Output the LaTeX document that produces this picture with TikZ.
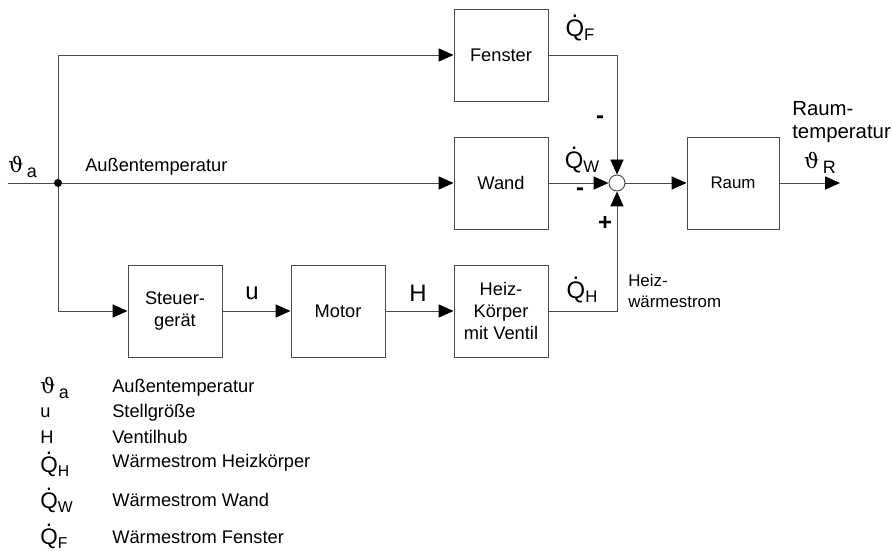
\documentclass[tikz,border=0pt]{standalone}
\usepackage{fontspec}
\usepackage{graphicx}
\setmainfont{Liberation Sans}
\newfontfamily\greekfont{DejaVu Serif}
\usetikzlibrary{arrows.meta, positioning, calc}

\newcommand{\qdot}[1]{\ooalign{\hfil\raisebox{0.8em}{.}\hfil\cr Q\cr}\raisebox{-0.35ex}{\scalebox{0.7}{#1}}}
\newcommand{\thsub}[1]{{\greekfont ϑ}\,\raisebox{-0.45ex}{\scalebox{0.85}{#1}}}

\begin{document}
\begin{tikzpicture}[
  block/.style={draw=black!70, line width=0.7pt, minimum width=2.35cm, minimum height=2.3cm, align=center, font=\fontsize{13pt}{15.5pt}\selectfont},
  sumnode/.style={circle, draw=black!70, line width=0.7pt, minimum size=0.4cm, inner sep=0pt},
  junction/.style={circle, fill=black, minimum size=0.2cm, inner sep=0pt},
  line/.style={draw=black!70, line width=0.7pt},
  arrow/.style={line, -{Triangle[length=0.375cm, width=0.33cm, color=black]}},
  sig/.style={font=\fontsize{17pt}{19pt}\selectfont, inner sep=0pt},
  txt/.style={font=\fontsize{13pt}{15.5pt}\selectfont, inner sep=0pt, anchor=west, align=left}
]
\useasboundingbox (0,0) rectangle (22.3,-13.775);

% Blocks
\node[block] (fenster) at (12.525, -1.375) {Fenster};
\node[block] (wand) at (12.525, -4.575) {Wand};
\node[sumnode] (sum) at (15.425, -4.575) {};
\node[block, minimum width=2.3cm, font=\fontsize{12pt}{14pt}\selectfont] (raum) at (18.325, -4.575) {Raum};
\node[block] (steuer) at (4.375, -7.775) {Steuer-\\gerät};
\node[block] (motor) at (8.45, -7.775) {Motor};
\node[block] (heiz) at (12.525, -7.775) {Heiz-\\Körper\\mit Ventil};

% Input and output
\coordinate (in) at (0.2, -4.575);
\node[junction] (dot) at (1.45, -4.575) {};
\coordinate (out) at (21.0, -4.575);

% Connections
\draw[line] (in) -- (dot);
\draw[arrow] (dot) -- (wand);
\draw[arrow] (dot) |- (fenster);
\draw[arrow] (dot) |- (steuer);
\draw[arrow] (steuer) -- (motor);
\draw[arrow] (motor) -- (heiz);
\draw[arrow] (fenster) -| (sum);
\draw[arrow] (wand) -- (sum);
\draw[arrow] (heiz) -| (sum);
\draw[arrow] (sum) -- (raum);
\draw[arrow] (raum) -- (out);

% Signal labels
\node[txt, font=\fontsize{15pt}{17pt}\selectfont] (tha) at (0.2, -4.175) {\thsub{a}};
\node[txt] (aussen) at (2.125, -4.175) {Außentemperatur};
\node[sig] (qf) at (14.5, -0.7) {\qdot{F}};
\node[sig] (qw) at (14.55, -4.0) {\qdot{W}};
\node[sig] (qh) at (14.55, -7.25) {\qdot{H}};
\node[sig] (su) at (6.3, -7.325) {u};
\node[sig] (sh) at (10.45, -7.325) {H};
\node[sig, font=\bfseries\fontsize{17pt}{19pt}\selectfont] (m1) at (15.0, -3.0) {-};
\node[sig, font=\bfseries\fontsize{17pt}{19pt}\selectfont] (m2) at (14.5, -4.8) {-};
\node[sig, font=\bfseries\fontsize{17pt}{19pt}\selectfont] (p1) at (15.125, -5.575) {+};
\node[txt, font=\fontsize{12pt}{14.5pt}\selectfont] (heizw) at (15.7, -7.275) {Heiz-\\wärmestrom};
\node[txt, font=\fontsize{14.5pt}{16.5pt}\selectfont] (raumt) at (19.8, -3.05) {Raum-\\temperatur};
\node[sig, font=\fontsize{15pt}{17pt}\selectfont] (thr) at (20.5, -4.075) {\thsub{R}};

% Legend
\node[txt, font=\fontsize{15pt}{17pt}\selectfont] (lg1) at (1.0, -9.7) {\thsub{a}};
\node[txt] (lt1) at (2.8, -9.7) {Außentemperatur};
\node[txt] (lg2) at (1.0, -10.325) {u};
\node[txt] (lt2) at (2.8, -10.325) {Stellgröße};
\node[txt] (lg3) at (1.0, -10.925) {H};
\node[txt] (lt3) at (2.8, -10.925) {Ventilhub};
\node[txt, font=\fontsize{16pt}{18pt}\selectfont] (lg4) at (1.0, -11.6) {\qdot{H}};
\node[txt] (lt4) at (2.8, -11.575) {Wärmestrom Heizkörper};
\node[txt, font=\fontsize{16pt}{18pt}\selectfont] (lg5) at (1.0, -12.5) {\qdot{W}};
\node[txt] (lt5) at (2.8, -12.5) {Wärmestrom Wand};
\node[txt, font=\fontsize{16pt}{18pt}\selectfont] (lg6) at (1.0, -13.4) {\qdot{F}};
\node[txt] (lt6) at (2.8, -13.425) {Wärmestrom Fenster};

\end{tikzpicture}
\end{document}
